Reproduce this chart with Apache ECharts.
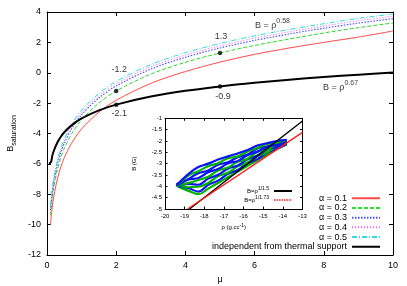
<!DOCTYPE html>
<html><head><meta charset="utf-8">
<script src="https://cdn.jsdelivr.net/npm/echarts@6/dist/echarts.min.js"></script>
<style>html,body{margin:0;padding:0;background:#fff}#c{width:407px;height:286px}</style>
</head><body><div id="c"></div>
<script>
// ---------- main panel data ----------
const mu = [0.1, 0.15, 0.2, 0.3, 0.4, 0.5, 0.7, 1, 1.5, 2, 3, 4, 5, 6, 7, 8, 9, 10];
const alpha01 = [-10.0, -8.88, -8.1, -6.99, -6.2, -5.59, -4.68, -3.7, -2.6, -1.81, -0.7, 0.08, 0.7, 1.21, 1.63, 2.0, 2.35, 2.75];
const alpha02 = [-9.38, -8.27, -7.49, -6.38, -5.59, -4.98, -4.07, -3.09, -1.99, -1.2, -0.09, 0.69, 1.3, 1.8, 2.22, 2.62, 2.97, 3.28];
const alpha03 = [-9.05, -7.94, -7.16, -6.05, -5.26, -4.65, -3.74, -2.76, -1.66, -0.87, 0.24, 1.02, 1.63, 2.13, 2.55, 2.93, 3.27, 3.56];
const alpha04 = [-8.9, -7.79, -7.01, -5.9, -5.11, -4.5, -3.59, -2.61, -1.51, -0.72, 0.39, 1.17, 1.78, 2.28, 2.7, 3.08, 3.43, 3.72];
const alpha05 = [-8.75, -7.64, -6.86, -5.75, -4.96, -4.35, -3.44, -2.46, -1.36, -0.57, 0.54, 1.32, 1.93, 2.43, 2.85, 3.23, 3.58, 3.87];
const muIndep = [0.06, 0.12, 0.15, 0.2, 0.3, 0.4, 0.5, 0.7, 1, 1.5, 2, 3, 4, 5, 6, 7, 8, 9, 10];
const indep = [-6.0, -5.85, -5.49, -5.12, -4.59, -4.21, -3.92, -3.48, -3.01, -2.48, -2.1, -1.57, -1.19, -0.9, -0.66, -0.46, -0.28, -0.13, 0.01];
const alphaNames = ['α = 0.1', 'α = 0.2', 'α = 0.3', 'α = 0.4', 'α = 0.5'];
const indepName = 'independent from thermal support';
const markerPoints = [[2, -1.2], [2, -2.1], [5, 1.3], [5, -0.9]];
const markerTexts = ['-1.2', '-2.1', '1.3', '-0.9'];
const powerLawPos = [[6.01, 3.1], [7.98, -0.95]];
const powerLawExp = ['0.58', '0.67'];
const xMain = {min: 0, max: 10, interval: 2};
const yMain = {min: -12, max: 4, interval: 2};

// ---------- inset data ----------
const xInset = {min: -20, max: -13, interval: 1};
const yInset = {min: -5, max: -1, interval: 0.5};
const fitSteep = [[-18.75, -5], [-13, -1.12]];   // B = rho^(1/1.5)
const fitShallow = [[-18.85, -5], [-13, -1.62]]; // B = rho^(1/1.73)
const fitNames = ['B=ρ^1/1.5', 'B=ρ^1/1.73'];
const cloudRho = [-19.42, -19.3, -18.8, -18.3, -17.8, -17.3, -16.8, -16.3, -15.8, -15.3, -14.8, -14.3, -13.8];
const cloud0 = [-3.93, -4.02, -4.2, -4.35, -4.1, -3.85, -3.6, -3.35, -3.1, -2.85, -2.6, -2.35, -2.15];
const cloud1 = [-3.93, -4.00, -4.08, -4.23, -3.93, -3.75, -3.45, -3.28, -2.98, -2.80, -2.51, -2.34, -2.12];
const cloud2 = [-3.93, -3.98, -4.04, -4.02, -3.85, -3.56, -3.40, -3.12, -2.95, -2.66, -2.50, -2.23, -2.10];
const cloud3 = [-3.93, -3.96, -3.89, -3.93, -3.66, -3.49, -3.22, -3.08, -2.81, -2.64, -2.38, -2.25, -2.07];
const cloud4 = [-3.93, -3.93, -3.85, -3.72, -3.58, -3.30, -3.17, -2.92, -2.78, -2.49, -2.38, -2.14, -2.05];
const cloud5 = [-3.93, -3.91, -3.70, -3.63, -3.38, -3.24, -2.99, -2.88, -2.63, -2.47, -2.26, -2.16, -2.02];
const cloud6 = [-3.93, -3.89, -3.67, -3.42, -3.30, -3.05, -2.94, -2.72, -2.60, -2.33, -2.25, -2.06, -2.00];
const cloud7 = [-3.93, -3.87, -3.51, -3.33, -3.11, -2.98, -2.76, -2.68, -2.46, -2.31, -2.13, -2.07, -1.97];
const cloud8 = [-3.93, -3.85, -3.45, -3.15, -3.00, -2.82, -2.68, -2.55, -2.40, -2.20, -2.10, -2.00, -1.95];
const cloudLines = [cloud0, cloud1, cloud2, cloud3, cloud4, cloud5, cloud6, cloud7, cloud8];
const cloudColors = ['#00b400', '#0a14f0', '#00b400', '#0a14f0', '#00b400', '#0a14f0', '#0a14f0', '#00b400', '#0a14f0'];

// ---------- build ----------
const FONT = 'Liberation Sans, Arial, sans-serif';
const BLACK = '#000';
const pair = (xs, ys) => xs.map((x, i) => [x, ys[i]]);

function axis(grid, range, pos, opts) {
  return Object.assign({
    type: 'value', gridIndex: grid, position: pos,
    min: range.min, max: range.max, interval: range.interval,
    axisLine: {show: true, onZero: false, lineStyle: {color: BLACK, width: 1}},
    axisTick: {show: true, inside: true, length: opts.tick, lineStyle: {color: BLACK, width: 1}},
    splitLine: {show: false},
    axisLabel: {show: opts.labels, color: BLACK, fontFamily: FONT, fontSize: opts.fs, margin: opts.margin},
    nameTextStyle: {color: BLACK, fontFamily: FONT}
  }, opts.extra || {});
}

const lineStyles = [
  {color: '#ff4a4a', width: 1, type: 'solid'},
  {color: '#2fd82f', width: 1, type: [4, 2]},
  {color: '#4a4aff', width: 1.1, type: [1.5, 1.5]},
  {color: '#ff5cff', width: 1, type: [1, 2]},
  {color: '#2fdcdc', width: 1, type: [5, 2, 1, 2]}
];
const alphaData = [alpha01, alpha02, alpha03, alpha04, alpha05];

const series = [];
alphaData.forEach((d, i) => {
  series.push({type: 'line', name: alphaNames[i], xAxisIndex: 0, yAxisIndex: 0,
    data: pair(mu, d), smooth: 0.3, symbol: 'none', lineStyle: lineStyles[i],
    itemStyle: {color: lineStyles[i].color}, z: 3});
});
series.push({type: 'line', name: indepName, xAxisIndex: 0, yAxisIndex: 0,
  data: pair(muIndep, indep), smooth: 0.3, symbol: 'none', lineStyle: {color: BLACK, width: 2},
  itemStyle: {color: BLACK}, z: 4});

const labelOffsets = [[3, -21], [3, 9], [1, -16], [3, 10]];
series.push({type: 'scatter', xAxisIndex: 0, yAxisIndex: 0, symbolSize: 4.5, z: 5,
  itemStyle: {color: BLACK},
  data: markerPoints.map((p, i) => ({value: p, label: {show: true, position: 'inside', offset: labelOffsets[i],
    formatter: markerTexts[i], color: BLACK, fontFamily: FONT, fontSize: 9}}))
});
series.push({type: 'scatter', xAxisIndex: 0, yAxisIndex: 0, symbolSize: 0, z: 5, silent: true,
  data: powerLawPos.map((p, i) => ({value: p, label: {show: true, position: 'inside', align: 'left',
    formatter: '{n|B = ρ}{s|' + powerLawExp[i] + '}',
    rich: {n: {fontSize: 9, lineHeight: 16, fontFamily: FONT, color: BLACK},
           s: {fontSize: 7, lineHeight: 6, verticalAlign: 'top', fontFamily: FONT, color: BLACK}}}}))
});

// inset
cloudLines.forEach((d, i) => {
  series.push({type: 'line', xAxisIndex: 2, yAxisIndex: 2, data: pair(cloudRho, d), smooth: 0.4,
    symbol: 'none', silent: true, lineStyle: {color: cloudColors[i], width: 2.2}, z: 2});
});
series.push({type: 'line', name: fitNames[0], xAxisIndex: 2, yAxisIndex: 2, data: fitSteep,
  symbol: 'none', lineStyle: {color: BLACK, width: 1.4}, itemStyle: {color: BLACK}, z: 3});
series.push({type: 'line', name: fitNames[1], xAxisIndex: 2, yAxisIndex: 2, data: fitShallow,
  symbol: 'none', lineStyle: {color: '#ff1a1a', width: 1.4}, itemStyle: {color: '#ff1a1a'}, z: 3});

const fitLabel = {};
fitLabel[fitNames[0]] = '{n|B=ρ}{s|1/1.5}';
fitLabel[fitNames[1]] = '{n|B=ρ}{s|1/1.73}';

const option = {
  animation: false,
  backgroundColor: '#fff',
  grid: [
    {left: 47, right: 14, top: 12, bottom: 31, outerBoundsMode: 'none', containLabel: false},
    {left: 165, top: 118.3, width: 137.5, height: 90.7, outerBoundsMode: 'none', containLabel: false}
  ],
  xAxis: [
    axis(0, xMain, 'bottom', {tick: 4, labels: true, fs: 9, margin: 6, extra: {
      name: 'μ', nameLocation: 'middle', nameGap: 19,
      nameTextStyle: {color: BLACK, fontFamily: FONT, fontSize: 9}}}),
    axis(0, xMain, 'top', {tick: 4, labels: false, fs: 9, margin: 6}),
    axis(1, xInset, 'bottom', {tick: 2.5, labels: true, fs: 6, margin: 4, extra: {
      name: '{n|ρ (g.cc}{s|-1}{n|)}', nameLocation: 'middle', nameGap: 14,
      nameTextStyle: {color: BLACK, fontFamily: FONT, fontSize: 6,
        rich: {n: {fontSize: 6, lineHeight: 9, fontFamily: FONT, color: BLACK},
               s: {fontSize: 5, lineHeight: 5, verticalAlign: 'top', fontFamily: FONT, color: BLACK}}}}}),
    axis(1, xInset, 'top', {tick: 2.5, labels: false, fs: 6, margin: 4})
  ],
  yAxis: [
    axis(0, yMain, 'left', {tick: 4, labels: true, fs: 9, margin: 6, extra: {
      name: '{b|B}{s|saturation}', nameLocation: 'middle', nameGap: 21, nameRotate: 90,
      nameTextStyle: {color: BLACK, fontFamily: FONT,
        rich: {b: {fontSize: 9, lineHeight: 13, fontFamily: FONT, color: BLACK},
               s: {fontSize: 7, lineHeight: 8, verticalAlign: 'bottom', fontFamily: FONT, color: BLACK}}}}}),
    axis(0, yMain, 'right', {tick: 4, labels: false, fs: 9, margin: 6}),
    axis(1, yInset, 'left', {tick: 2.5, labels: true, fs: 6, margin: 3, extra: {
      name: 'B (G)', nameLocation: 'middle', nameGap: 28, nameRotate: 90,
      nameTextStyle: {color: BLACK, fontFamily: FONT, fontSize: 6}}}),
    axis(1, yInset, 'right', {tick: 2.5, labels: false, fs: 6, margin: 3})
  ],
  legend: [
    {data: alphaNames.concat([indepName]), orient: 'vertical', right: 26, top: 193.4, padding: 0,
      itemWidth: 28, itemHeight: 9.7, itemGap: 0, align: 'right', selectedMode: false,
      itemStyle: {opacity: 0},
      textStyle: {fontSize: 9, fontFamily: FONT, color: BLACK, lineHeight: 9.7}},
    {data: [{name: fitNames[0]}, {name: fitNames[1], lineStyle: {type: [1.5, 1], width: 1.6}}],
      orient: 'vertical', right: 114, top: 186.5, padding: 0,
      itemWidth: 18, itemHeight: 9, itemGap: 0, align: 'right', selectedMode: false,
      itemStyle: {opacity: 0},
      formatter: n => fitLabel[n],
      textStyle: {fontSize: 6, fontFamily: FONT, color: BLACK, lineHeight: 9,
        rich: {n: {fontSize: 6, lineHeight: 9, fontFamily: FONT, color: BLACK},
               s: {fontSize: 5, lineHeight: 5, verticalAlign: 'top', fontFamily: FONT, color: BLACK}}}}
  ],
  series: series
};
const chart = echarts.init(document.getElementById('c'), null, {renderer: 'canvas'});
chart.setOption(option);
</script></body></html>
